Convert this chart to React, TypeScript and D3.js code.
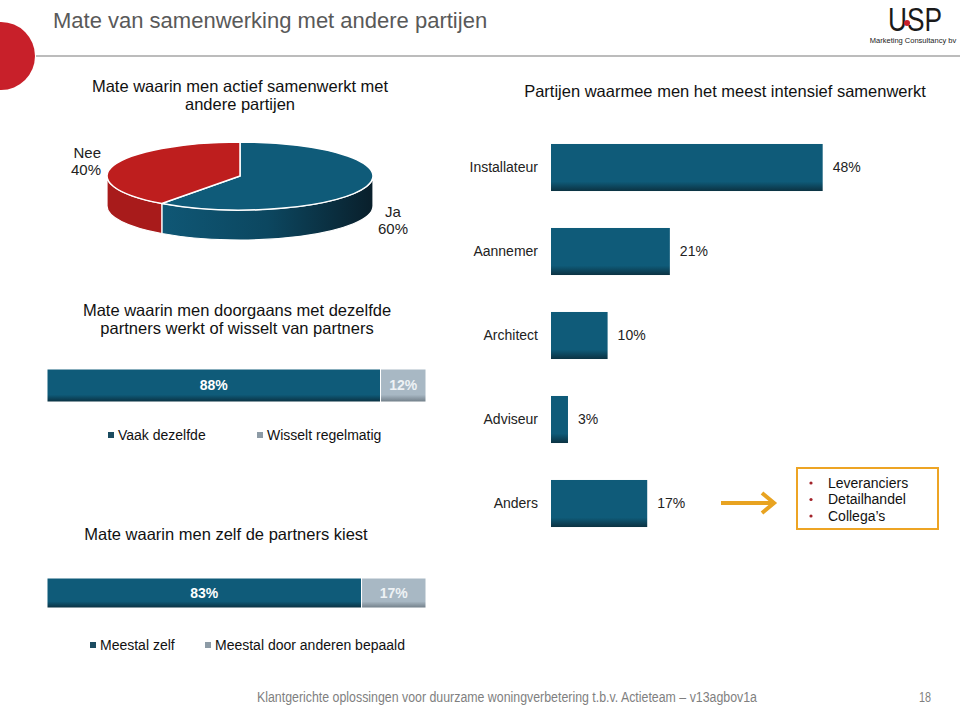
import React, { useEffect } from 'react';
import * as d3 from 'd3';

// pie: actief samenwerken
const pieLabels = ['Ja', 'Nee'];
const pieValues = [60, 40];

// right: partijen
const partijen = ['Installateur', 'Aannemer', 'Architect', 'Adviseur', 'Anders'];
const partijValues = [48, 21, 10, 3, 17];

// stacked bars
const bar1Labels = ['Vaak dezelfde', 'Wisselt regelmatig'];
const bar1Values = [88, 12];
const bar2Labels = ['Meestal zelf', 'Meestal door anderen bepaald'];
const bar2Values = [83, 17];

const andersItems = ['Leveranciers', 'Detailhandel', 'Collega\u2019s'];

const BLUE = '#0f5b79';
const GREY = '#a8b8c4';
const FONT = '"Liberation Sans", Arial, sans-serif';

function Pie3D() {
  const cx = 240, cy = 176, rx = 133, ry = 34, depth = 30;
  const data = pieValues.map((v, i) => ({ label: pieLabels[i], value: v }));
  const arcs = d3.pie<any>().sort(null).value((d: any) => d.value)(data);
  const pt = (a: number, dy = 0) => [cx + rx * Math.sin(a), cy - ry * Math.cos(a) + dy];

  const topPath = (a0: number, a1: number) => {
    const p0 = pt(a0), p1 = pt(a1);
    const large = a1 - a0 > Math.PI ? 1 : 0;
    return `M${cx},${cy}L${p0[0]},${p0[1]}A${rx},${ry} 0 ${large} 1 ${p1[0]},${p1[1]}Z`;
  };
  const sidePath = (a0: number, a1: number) => {
    const s0 = Math.max(a0, Math.PI / 2), s1 = Math.min(a1, (3 * Math.PI) / 2);
    if (s1 <= s0) return null;
    const p0 = pt(s0), p1 = pt(s1), q0 = pt(s0, depth), q1 = pt(s1, depth);
    return `M${p0[0]},${p0[1]}A${rx},${ry} 0 0 1 ${p1[0]},${p1[1]}L${q1[0]},${q1[1]}A${rx},${ry} 0 0 0 ${q0[0]},${q0[1]}Z`;
  };
  const topFill = ['#0f5b79', '#be1e1e'];
  const sideFill = ['url(#pieSideBlue)', '#a81b1b'];

  return (
    <g>
      {arcs.map((a, i) => {
        const d = sidePath(a.startAngle, a.endAngle);
        return d ? <path key={'s' + i} d={d} fill={sideFill[i]} stroke="#fff" strokeWidth={1.2} /> : null;
      })}
      {arcs.map((a, i) => (
        <path key={'t' + i} d={topPath(a.startAngle, a.endAngle)} fill={topFill[i]} stroke="#fff" strokeWidth={1.5} />
      ))}
      <g fontFamily={FONT} fontSize={15} fill="#222">
        <text x={101} y={158} textAnchor="end">Nee</text>
        <text x={101} y={175} textAnchor="end">{pieValues[1]}%</text>
        <text x={393} y={217} textAnchor="middle">Ja</text>
        <text x={393} y={234} textAnchor="middle">{pieValues[0]}%</text>
      </g>
    </g>
  );
}

function StackedBar({ values, labels, y, h, legendY, legendX }: any) {
  const x = d3.scaleLinear().domain([0, 100]).range([47, 426]);
  const starts = values.map((_: number, i: number) => d3.sum(values.slice(0, i)));
  const fills = ['url(#gBlue)', 'url(#gGrey)'];
  const sq = ['#1b4b60', '#8d9ba6'];
  return (
    <g fontFamily={FONT}>
      {values.map((v: number, i: number) => (
        <g key={i}>
          <rect x={x(starts[i])} y={y} width={x(starts[i] + v) - x(starts[i])} height={h} fill={fills[i]} stroke="#fff" strokeWidth={1} />
          <text x={(x(starts[i]) + x(starts[i] + v)) / 2} y={y + h / 2} dy="0.35em" textAnchor="middle"
            fontSize={14} fontWeight="bold" fill={i === 0 ? '#fff' : '#eef2f5'}>{v}%</text>
        </g>
      ))}
      {labels.map((l: string, i: number) => (
        <g key={l}>
          <rect x={legendX[i]} y={legendY - 3} width={6} height={6} fill={sq[i]} />
          <text x={legendX[i] + 10} y={legendY} dy="0.35em" fontSize={14} fill="#111">{l}</text>
        </g>
      ))}
    </g>
  );
}

function PartijBars() {
  const x = d3.scaleLinear().domain([0, 50]).range([0, 283]);
  const y = d3.scaleBand<string>().domain(partijen).range([125.5, 545.5]).paddingInner(0.44).paddingOuter(0.22);
  const x0 = 551;
  return (
    <g fontFamily={FONT} fontSize={14} fill="#222">
      {partijen.map((p, i) => {
        const yy = y(p) as number;
        const bw = y.bandwidth();
        return (
          <g key={p}>
            <rect x={x0} y={yy} width={x(partijValues[i])} height={bw} fill="url(#gBlueR)" />
            <text x={538} y={yy + bw / 2} dy="0.35em" textAnchor="end">{p}</text>
            <text x={x0 + x(partijValues[i]) + 10} y={yy + bw / 2} dy="0.35em">{partijValues[i]}%</text>
          </g>
        );
      })}
    </g>
  );
}

export default function App() {
  useEffect(() => {
    document.body.style.margin = '0';
  }, []);

  return (
    <svg width={960} height={706} style={{ position: 'absolute', left: 0, top: 0, background: '#fff' }}>
      <defs>
        <linearGradient id="gBlue" x1="0" y1="0" x2="0" y2="1">
          <stop offset="0" stopColor={BLUE} />
          <stop offset="0.78" stopColor={BLUE} />
          <stop offset="1" stopColor="#0a2f3f" />
        </linearGradient>
        <linearGradient id="gBlueR" x1="0" y1="0" x2="0" y2="1">
          <stop offset="0" stopColor={BLUE} />
          <stop offset="0.8" stopColor={BLUE} />
          <stop offset="1" stopColor="#0b3242" />
        </linearGradient>
        <linearGradient id="gGrey" x1="0" y1="0" x2="0" y2="1">
          <stop offset="0" stopColor={GREY} />
          <stop offset="0.78" stopColor={GREY} />
          <stop offset="1" stopColor="#6f7c86" />
        </linearGradient>
        <linearGradient id="pieSideBlue" x1="0" y1="0" x2="1" y2="0">
          <stop offset="0" stopColor="#0f5775" />
          <stop offset="0.5" stopColor="#0c4760" />
          <stop offset="1" stopColor="#091f2b" />
        </linearGradient>
      </defs>

      {/* header */}
      <circle cx={1} cy={56} r={34} fill="#c8202a" />
      <line x1={36} x2={960} y1={56} y2={56} stroke="#a6a6a6" strokeWidth={1.5} />
      <text x={53} y={28} fontFamily={FONT} fontSize={22} fill="#595959">Mate van samenwerking met andere partijen</text>
      <text x={888} y={31} fontFamily={FONT} fontSize={34} fill="#1a1a1a"
        textLength={54} lengthAdjust="spacingAndGlyphs">USP</text>
      <circle cx={907} cy={23} r={3} fill="#c8202a" />
      <text x={913} y={43} textAnchor="middle" fontFamily={FONT} fontSize={7.5} fill="#222">Marketing Consultancy bv</text>

      {/* left panel */}
      <g fontFamily={FONT} fontSize={16.5} fill="#111" textAnchor="middle">
        <text x={240} y={92}>Mate waarin men actief samenwerkt met</text>
        <text x={240} y={110}>andere partijen</text>
        <text x={237} y={316}>Mate waarin men doorgaans met dezelfde</text>
        <text x={237} y={334}>partners werkt of wisselt van partners</text>
        <text x={226} y={540}>Mate waarin men zelf de partners kiest</text>
      </g>
      <Pie3D />
      <StackedBar values={bar1Values} labels={bar1Labels} y={369} h={33} legendY={435} legendX={[108, 257]} />
      <StackedBar values={bar2Values} labels={bar2Labels} y={578} h={30} legendY={645} legendX={[90, 205]} />

      {/* right panel */}
      <text x={725} y={97} textAnchor="middle" fontFamily={FONT} fontSize={16.5} fill="#111">
        Partijen waarmee men het meest intensief samenwerkt
      </text>
      <PartijBars />

      {/* arrow + box */}
      <line x1={721} x2={773} y1={503} y2={503} stroke="#e8a321" strokeWidth={4} />
      <polyline points="762,493 774,503 762,513" fill="none" stroke="#e8a321" strokeWidth={4} />
      <rect x={797} y={468} width={141} height={61} fill="#fff" stroke="#eda424" strokeWidth={2} />
      <g fontFamily={FONT} fontSize={14} fill="#111">
        {andersItems.map((t, i) => (
          <g key={t}>
            <circle cx={811} cy={483 + i * 16.5} r={1.6} fill="#a3232a" />
            <text x={828} y={483 + i * 16.5} dy="0.35em">{t}</text>
          </g>
        ))}
      </g>

      {/* footer */}
      <text x={257} y={702} fontFamily={FONT} fontSize={14} fill="#7f7f7f"
        textLength={500} lengthAdjust="spacingAndGlyphs">
        Klantgerichte oplossingen voor duurzame woningverbetering t.b.v. Actieteam – v13agbov1a
      </text>
      <text x={931} y={702} textAnchor="end" fontFamily={FONT} fontSize={14} fill="#7f7f7f"
        textLength={12} lengthAdjust="spacingAndGlyphs">18</text>
    </svg>
  );
}
